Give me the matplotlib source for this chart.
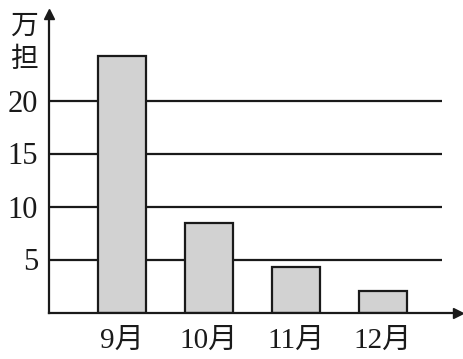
import matplotlib
matplotlib.use("Agg")
import matplotlib.pyplot as plt

plt.rcParams['font.family'] = ['Liberation Serif', 'Noto Sans CJK SC']

months = ["9月", "10月", "11月", "12月"]
values = [24.2, 8.4, 4.3, 2.0]
yticks = [5, 10, 15, 20]
unit_label = "万\n担"

W, H = 464, 359
fig = plt.figure(figsize=(W / 100, H / 100), dpi=100)
ax = fig.add_axes([49 / W, (H - 312.5) / H, (458 - 49) / W, (312.5 - 14) / H])

x = list(range(len(months)))
x_left = -0.839
x_right = x_left + (458 - 49) / 87
grid_end = 3.678
ax.set_xlim(x_left, x_right)
ax.set_ylim(0, (312.5 - 14) / 10.6)

ax.hlines(yticks, x_left, grid_end, colors='#1a1a1a', linewidth=1.6, zorder=1)
ax.bar(x, values, width=0.563, color='#d2d2d2', edgecolor='#1a1a1a', linewidth=1.6, zorder=2)

for s in ['top', 'right']:
    ax.spines[s].set_visible(False)
for s in ['left', 'bottom']:
    ax.spines[s].set_linewidth(1.6)
    ax.spines[s].set_color('#1a1a1a')

ax.plot(1, 0, marker='>', color='#1a1a1a', markersize=7, transform=ax.transAxes, clip_on=False)
ax.plot(0, 1, marker='^', color='#1a1a1a', markersize=7, transform=ax.transAxes, clip_on=False)

ax.set_yticks(yticks)
ax.set_yticklabels([str(v) for v in yticks], fontsize=22)
ax.set_xticks(x)
ax.set_xticklabels(months, fontsize=21)
ax.tick_params(axis='y', length=0, pad=8, colors='#1a1a1a')
ax.tick_params(axis='x', length=0, pad=11, colors='#1a1a1a')

ax.text(-0.028, 1.01, unit_label, transform=ax.transAxes, ha='right', va='top',
        fontsize=20, linespacing=1.15, color='#1a1a1a',
        family=['Noto Sans CJK SC'])

fig.savefig("out.png", dpi=100)
